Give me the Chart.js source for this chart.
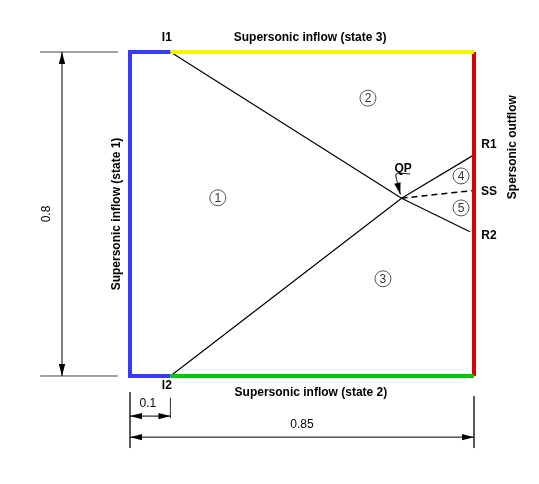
<!DOCTYPE html>
<html lang="en">
<head>
<meta charset="UTF-8" />
<title>Supersonic domain</title>
<script src="https://cdn.jsdelivr.net/npm/chart.js"></script>
<style>
  body { margin: 0; background: #fff; }
  canvas { display: block; }
</style>
</head>
<body>
<canvas id="domain" width="539" height="484"></canvas>
<script>
// domain boundaries (x, y in domain units)
const inflow1 = [[0.1, 0.8], [0, 0.8], [0, 0], [0.1, 0]];
const inflow3 = [[0.1, 0.8], [0.85, 0.8]];
const inflow2 = [[0.1, 0], [0.85, 0]];
const outflow = [[0.85, 0], [0.85, 0.8]];

// shocks and slip line
const shockI1 = [[0.1, 0.8], [0.671, 0.439], [0.84, 0.356]];
const shockI2 = [[0.1, 0], [0.671, 0.439], [0.85, 0.546]];
const slipSS = [[0.671, 0.439], [0.848, 0.458]];
const qpLeader = [[0.692, 0.499], [0.658, 0.499], [0.66, 0.48], [0.668, 0.448]];

// dimension lines
const dimHeight = [[-0.168, 0], [-0.168, 0.8]];
const dimSmall = [[0, -0.099], [0.1, -0.099]];
const dimWidth = [[0, -0.151], [0.85, -0.151]];
const extLines = [
  [[-0.222, 0.8], [-0.03, 0.8]],
  [[-0.222, 0], [-0.03, 0]],
  [[0, -0.04], [0, -0.178]],
  [[0.85, -0.05], [0.85, -0.178]],
  [[0.1, -0.054], [0.1, -0.104]]
];

// labels: text, x, y
const boldLabels = [
  ["I1", 0.091, 0.835], ["I2", 0.091, -0.025],
  ["Supersonic inflow (state 3)", 0.445, 0.835],
  ["Supersonic inflow (state 2)", 0.447, -0.042],
  ["R1", 0.887, 0.57], ["SS", 0.887, 0.454], ["R2", 0.887, 0.346],
  ["QP", 0.675, 0.511]
];
const dimLabels = [["0.1", 0.044, -0.069], ["0.85", 0.425, -0.121]];
const rotLabels = [
  ["Supersonic inflow (state 1)", -0.032, 0.4, true],
  ["Spersonic outflow", 0.946, 0.565, true],
  ["0.8", -0.205, 0.4, false]
];
const regions = [["1", 0.217, 0.44], ["2", 0.588, 0.686], ["3", 0.625, 0.24], ["4", 0.818, 0.494], ["5", 0.818, 0.415]];

const pts = (arr) => arr.map(p => ({ x: p[0], y: p[1] }));
function line(arr, color, width, extra) {
  return Object.assign({ data: pts(arr), showLine: true, borderColor: color, borderWidth: width, pointRadius: 0, fill: false }, extra || {});
}

const datasets = [
  line(inflow3, "#f5f500", 4),
  line(inflow2, "#00cc00", 4),
  line(inflow1, "#3a3aff", 4),
  line(outflow, "#dd0000", 4),
  line(shockI1, "#000", 1.2),
  line(shockI2, "#000", 1.2),
  line(slipSS, "#000", 1.5, { borderDash: [6, 4] }),
  line(qpLeader, "#000", 1, { tension: 0.3 }),
  line(dimHeight, "#000", 1),
  line(dimSmall, "#000", 1),
  line(dimWidth, "#000", 1)
];
extLines.forEach(e => datasets.push(line(e, "#444", 1)));
datasets.push({
  data: regions.map(r => ({ x: r[1], y: r[2] })),
  showLine: false, pointStyle: "circle", pointRadius: 8,
  pointBorderColor: "#555", pointBorderWidth: 1, pointBackgroundColor: "rgba(0,0,0,0)"
});

// arrowheads at the tip of a segment: [from, to]
const arrows = [
  [dimHeight[0], dimHeight[1]], [dimHeight[1], dimHeight[0]],
  [dimSmall[1], dimSmall[0]], [dimSmall[0], dimSmall[1]],
  [dimWidth[1], dimWidth[0]], [dimWidth[0], dimWidth[1]],
  [qpLeader[2], qpLeader[3]]
];

const annotate = {
  id: "annotate",
  afterDatasetsDraw(chart) {
    const c = chart.ctx, sx = chart.scales.x, sy = chart.scales.y;
    const px = (x) => sx.getPixelForValue(x), py = (y) => sy.getPixelForValue(y);
    c.save();
    c.fillStyle = "#000";
    arrows.forEach(a => {
      const x0 = px(a[0][0]), y0 = py(a[0][1]), x1 = px(a[1][0]), y1 = py(a[1][1]);
      const ang = Math.atan2(y1 - y0, x1 - x0);
      const len = 12, half = 3.2;
      c.beginPath();
      c.moveTo(x1, y1);
      c.lineTo(x1 - len * Math.cos(ang) + half * Math.sin(ang), y1 - len * Math.sin(ang) - half * Math.cos(ang));
      c.lineTo(x1 - len * Math.cos(ang) - half * Math.sin(ang), y1 - len * Math.sin(ang) + half * Math.cos(ang));
      c.closePath();
      c.fill();
    });
    c.textAlign = "center";
    c.textBaseline = "middle";
    c.font = "bold 12px 'Liberation Sans', Arial, sans-serif";
    boldLabels.forEach(l => c.fillText(l[0], px(l[1]), py(l[2])));
    c.font = "12px 'Liberation Sans', Arial, sans-serif";
    dimLabels.forEach(l => c.fillText(l[0], px(l[1]), py(l[2])));
    rotLabels.forEach(l => {
      c.save();
      c.translate(px(l[1]), py(l[2]));
      c.rotate(-Math.PI / 2);
      c.font = (l[3] ? "bold " : "") + "12px 'Liberation Sans', Arial, sans-serif";
      c.fillText(l[0], 0, 0);
      c.restore();
    });
    c.font = "12px 'Liberation Sans', Arial, sans-serif";
    c.fillStyle = "#333";
    regions.forEach(r => c.fillText(r[0], px(r[1]), py(r[2]) + 1));
    c.restore();
  }
};

new Chart(document.getElementById("domain"), {
  type: "scatter",
  data: { datasets: datasets },
  options: {
    responsive: false,
    animation: false,
    layout: { padding: 0, autoPadding: false },
    plugins: { legend: { display: false }, tooltip: { enabled: false } },
    scales: {
      x: { type: "linear", min: -0.3212, max: 1.0106, display: false },
      y: { type: "linear", min: -0.2667, max: 0.9284, display: false }
    }
  },
  plugins: [annotate]
});
</script>
</body>
</html>
